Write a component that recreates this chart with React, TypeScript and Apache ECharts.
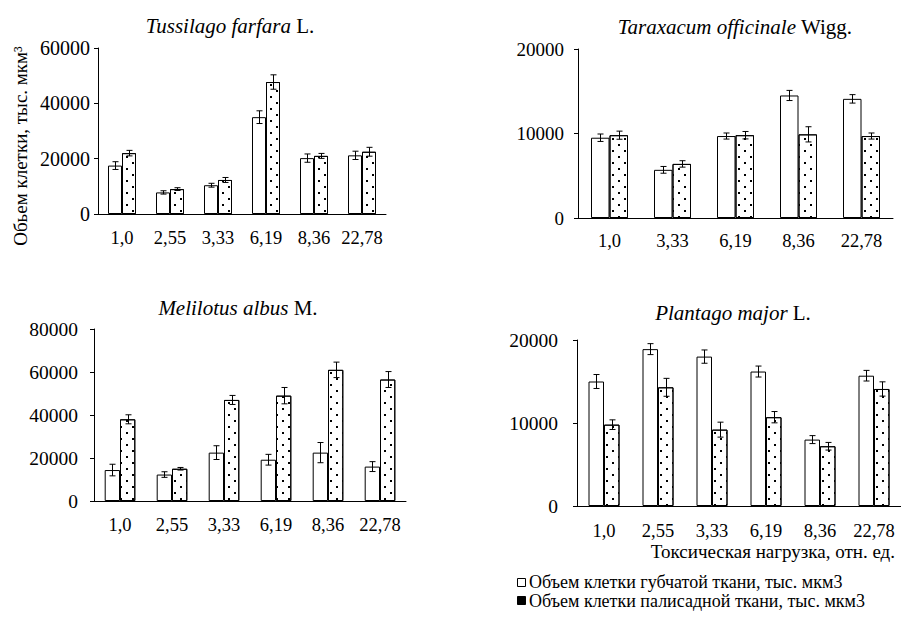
import React, { useEffect, useRef } from "react";
import * as echarts from "echarts";

const FONT = "Liberation Serif, Times New Roman, serif";

// Tussilago farfara L.
const tussCats = ["1,0", "2,55", "3,33", "6,19", "8,36", "22,78"];
const tussSpongy = [17500, 7800, 10400, 35000, 20200, 21200];
const tussSpongyErr = [1400, 600, 700, 2300, 1500, 1500];
const tussPalisade = [22000, 9000, 12300, 47700, 21000, 22500];
const tussPalisadeErr = [1000, 500, 900, 2600, 900, 1600];

// Taraxacum officinale Wigg.
const taraCats = ["1,0", "3,33", "6,19", "8,36", "22,78"];
const taraSpongy = [9500, 5700, 9700, 14500, 14100];
const taraSpongyErr = [440, 400, 360, 600, 500];
const taraPalisade = [9800, 6400, 9800, 9900, 9700];
const taraPalisadeErr = [480, 380, 440, 900, 360];

// Melilotus albus M.
const meliCats = ["1,0", "2,55", "3,33", "6,19", "8,36", "22,78"];
const meliSpongy = [14400, 12300, 22500, 19200, 22500, 16000];
const meliSpongyErr = [2700, 1300, 3200, 2500, 4700, 2300];
const meliPalisade = [38000, 15000, 47000, 49000, 61000, 56500];
const meliPalisadeErr = [2100, 600, 2100, 3800, 3600, 3700];

// Plantago major L.
const plantCats = ["1,0", "2,55", "3,33", "6,19", "8,36", "22,78"];
const plantSpongy = [15000, 18900, 18000, 16200, 8000, 15700];
const plantSpongyErr = [840, 660, 800, 660, 480, 640];
const plantPalisade = [9800, 14300, 9200, 10700, 7200, 14100];
const plantPalisadeErr = [580, 1080, 900, 680, 460, 860];

const legendSpongy = "Объем клетки губчатой ткани, тыс. мкм3";
const legendPalisade = "Объем клетки палисадной ткани, тыс. мкм3";
const yAxisName = "Обьем клетки, тыс. мкм³";
const xAxisName = "Токсическая нагрузка, отн. ед.";

const panels = [
  {
    italic: "Tussilago farfara", suffix: " L.", tx: 230, ty: 26,
    cats: tussCats, s: tussSpongy, se: tussSpongyErr, p: tussPalisade, pe: tussPalisadeErr,
    grid: { left: 98, top: 48, width: 288, height: 166 },
    max: 60000, interval: 20000, bw: 14, yMargin: 8, xMargin: 14, yFont: 20,
  },
  {
    italic: "Taraxacum officinale", suffix: " Wigg.", tx: 735, ty: 27,
    cats: taraCats, s: taraSpongy, se: taraSpongyErr, p: taraPalisade, pe: taraPalisadeErr,
    grid: { left: 578, top: 49, width: 315, height: 169 },
    max: 20000, interval: 10000, bw: 18.5, yMargin: 14, xMargin: 13, yFont: 19,
  },
  {
    italic: "Melilotus albus", suffix: " M.", tx: 238, ty: 308,
    cats: meliCats, s: meliSpongy, se: meliSpongyErr, p: meliPalisade, pe: meliPalisadeErr,
    grid: { left: 94, top: 329, width: 312, height: 172 },
    max: 80000, interval: 20000, bw: 15.3, yMargin: 16, xMargin: 14, yFont: 19.5,
  },
  {
    italic: "Plantago major", suffix: " L.", tx: 733, ty: 313,
    cats: plantCats, s: plantSpongy, se: plantSpongyErr, p: plantPalisade, pe: plantPalisadeErr,
    grid: { left: 577, top: 340, width: 330, height: 166 },
    max: 20000, interval: 10000, bw: 15.5, yMargin: 19, xMargin: 15, yFont: 19.5,
  },
];

function errorSeries(gi: number, vals: number[], errs: number[], offset: number) {
  return {
    type: "custom",
    xAxisIndex: gi,
    yAxisIndex: gi,
    z: 10,
    encode: { x: 0, y: [1, 2] },
    data: vals.map((v, i) => [i, v - errs[i], v + errs[i]]),
    renderItem: (params: any, api: any) => {
      const idx = api.value(0);
      const lo = api.coord([idx, api.value(1)]);
      const hi = api.coord([idx, api.value(2)]);
      const cx = Math.round(lo[0] + offset) + 0.5;
      const w = 3;
      const st = { stroke: "#000", lineWidth: 1 };
      return {
        type: "group",
        children: [
          { type: "line", shape: { x1: cx, y1: hi[1], x2: cx, y2: lo[1] }, style: st },
          { type: "line", shape: { x1: cx - w, y1: hi[1], x2: cx + w, y2: hi[1] }, style: st },
          { type: "line", shape: { x1: cx - w, y1: lo[1], x2: cx + w, y2: lo[1] }, style: st },
        ],
      };
    },
  };
}

export default function App() {
  const ref = useRef<HTMLDivElement>(null);
  useEffect(() => {
    if (!ref.current) return;
    const chart = echarts.init(ref.current, null, { renderer: "svg" });
    const grids: any[] = [];
    const xAxes: any[] = [];
    const yAxes: any[] = [];
    const series: any[] = [];
    const graphics: any[] = [];
    panels.forEach((pn, gi) => {
      grids.push({ ...pn.grid, containLabel: false });
      xAxes.push({
        type: "category",
        gridIndex: gi,
        data: pn.cats,
        axisLine: { lineStyle: { color: "#000", width: 1 } },
        axisTick: { inside: true, length: 4, lineStyle: { color: "#000" } },
        axisLabel: { fontFamily: FONT, fontSize: 18.5, color: "#000", margin: pn.xMargin, interval: 0 },
        splitLine: { show: false },
      });
      yAxes.push({
        type: "value",
        gridIndex: gi,
        min: 0,
        max: pn.max,
        interval: pn.interval,
        axisLine: { show: true, lineStyle: { color: "#000", width: 1 } },
        axisTick: { show: true, length: 4, lineStyle: { color: "#000" } },
        axisLabel: {
          fontFamily: FONT,
          fontSize: pn.yFont,
          color: "#000",
          margin: pn.yMargin,
          formatter: (v: number) => String(v),
        },
        splitLine: { show: false },
      });
      series.push({
        type: "bar",
        name: legendSpongy,
        xAxisIndex: gi,
        yAxisIndex: gi,
        barWidth: pn.bw,
        barGap: "0%",
        data: pn.s,
        itemStyle: { color: "#fff", borderColor: "#000", borderWidth: 1 },
      });
      series.push({
        type: "bar",
        name: legendPalisade,
        xAxisIndex: gi,
        yAxisIndex: gi,
        barWidth: pn.bw,
        barGap: "0%",
        data: pn.p,
        itemStyle: {
          color: "#fff",
          borderColor: "#000",
          borderWidth: 1,
          decal: {
            symbol: "rect",
            symbolSize: 1,
            color: "#000",
            dashArrayX: [[2, 10], [0, 6, 2, 4]],
            dashArrayY: [2, 4],
          },
        },
      });
      series.push(errorSeries(gi, pn.s, pn.se, -pn.bw / 2));
      series.push(errorSeries(gi, pn.p, pn.pe, pn.bw / 2));
      graphics.push({
        type: "text",
        x: pn.tx,
        y: pn.ty,
        style: {
          text: "{i|" + pn.italic + "}" + pn.suffix,
          fontFamily: FONT,
          fontSize: 21,
          fill: "#000",
          align: "center",
          verticalAlign: "middle",
          rich: { i: { fontFamily: FONT, fontSize: 21, fontStyle: "italic", fill: "#000" } },
        },
      });
    });
    graphics.push({
      type: "text",
      x: 20,
      y: 146,
      rotation: Math.PI / 2,
      style: {
        text: yAxisName,
        fontFamily: FONT,
        fontSize: 19,
        fill: "#000",
        align: "center",
        verticalAlign: "middle",
      },
    });
    graphics.push({
      type: "text",
      x: 895,
      y: 551,
      style: { text: xAxisName, fontFamily: FONT, fontSize: 19, fill: "#000", align: "right", verticalAlign: "middle" },
    });
    graphics.push({
      type: "rect",
      shape: { x: 517.5, y: 578.5, width: 8, height: 8 },
      style: { fill: "#fff", stroke: "#000", lineWidth: 1 },
    });
    graphics.push({
      type: "text",
      x: 529,
      y: 582,
      style: { text: legendSpongy, fontFamily: FONT, fontSize: 18, fill: "#000", align: "left", verticalAlign: "middle" },
    });
    graphics.push({
      type: "rect",
      shape: { x: 517.5, y: 596.5, width: 8, height: 8 },
      style: { fill: "#000", stroke: "#000", lineWidth: 1 },
    });
    graphics.push({
      type: "text",
      x: 529,
      y: 600.5,
      style: { text: legendPalisade, fontFamily: FONT, fontSize: 18, fill: "#000", align: "left", verticalAlign: "middle" },
    });

    chart.setOption({
      animation: false,
      backgroundColor: "#fff",
      textStyle: { fontFamily: FONT },
      grid: grids,
      xAxis: xAxes,
      yAxis: yAxes,
      series,
      graphic: graphics,
    });
    return () => chart.dispose();
  }, []);
  return (
    <div
      ref={ref}
      style={{ position: "absolute", left: 0, top: 0, width: 901, height: 619 }}
    />
  );
}
